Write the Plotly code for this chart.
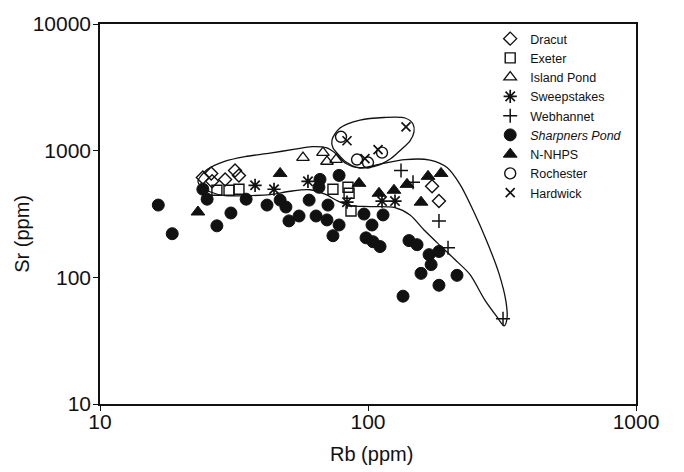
import plotly.graph_objects as go

# ---- data (Rb ppm, Sr ppm) ----
dracut_rb = [24.2, 26.0, 26.2, 29.3, 31.9, 33.0, 173.4, 184.0]
dracut_sr = [615, 661, 573, 593, 698, 638, 523, 400]

exeter_rb = [27.3, 30.3, 33.0, 74.0, 84.2, 85.0, 86.4]
exeter_sr = [487, 487, 496, 496, 514, 461, 334]

island_rb = [57.2, 67.9, 70.3, 76.0]
island_sr = [882, 965, 821, 851]

sweep_rb = [37.9, 44.6, 59.7, 83.5, 112.8, 126.1]
sweep_sr = [533, 496, 573, 392, 400, 400]

webh_rb = [132.8, 147.2, 184.0, 198.9, 319.0]
webh_sr = [698, 562, 279, 171.6, 47.0]

sharp_rb = [16.5, 18.6, 24.2, 25.1, 27.3, 30.8, 35.1, 42.0, 47.0, 49.4, 50.7, 55.3,
            60.3, 64.0, 66.2, 65.6, 70.3, 70.9, 78.0, 78.0, 74.0, 96.6, 103.5, 113.8,
            98.3, 104.4, 110.9, 142.2, 152.4, 169.0, 184.0, 172.0, 157.7, 214.8, 184.0, 135.1]
sharp_sr = [372, 221, 496, 414, 255, 322, 414, 372, 407, 359, 279, 305,
            407, 305, 593, 514, 284, 372, 638, 259, 213, 316, 259, 311,
            205, 191, 175, 195, 181, 151, 160, 126, 107.5, 103.7, 86.6, 71]

nnhps_rb = [23.2, 47.0, 92.6, 109.9, 125.0, 139.8, 157.7, 167.5, 187.3]
nnhps_sr = [328, 661, 552, 461, 487, 542, 392, 627, 661]

roch_rb = [79.3, 91.0, 100.0, 112.8]
roch_sr = [1287, 851, 806, 965]

hard_rb = [83.5, 97.4, 109.0, 138.6]
hard_sr = [1197, 866, 1018, 1540]

# hand-drawn field outlines
field_rb = [23.2, 25.1, 29.0, 34.8, 43.1, 53.4, 61.8, 69.7, 76.0, 82.8, 93.4, 110.9,
            137.5, 170.3, 197.2, 220.4, 246.5, 278, 308, 327, 330, 322, 303, 273,
            240, 211, 186, 163, 143.5, 126, 101.7, 85.7, 77.3, 69.1, 60.8, 51.2,
            43.1, 34.8, 29.3, 25.7, 23.8, 23.2]
field_sr = [573, 710, 821, 898, 956, 1027, 1075, 1055, 947, 791, 730, 784,
            851, 843, 736, 542, 340, 191, 107.5, 64.9, 47.0, 41.4, 48.7, 66.1,
            105.5, 138.2, 177.8, 232.9, 311, 355.4, 361.9, 368.5, 400, 453.3, 491.4, 478.3,
            449.2, 441.2, 441.2, 474, 523, 573]

loop_rb = [73.4, 78.6, 93.4, 114.7, 137.5, 147.2, 148.5, 143.5, 132.8, 121.8, 110.9,
           99.1, 90.2, 82.8, 77.3, 74.0, 73.4]
loop_sr = [1218, 1512, 1746, 1827, 1811, 1625, 1408, 1197, 1018, 866, 777,
           736, 743, 813, 939, 1055, 1218]

x_ticks = [10, 100, 1000]
y_ticks = [10, 100, 1000, 10000]

FONT = "Liberation Sans, Arial, sans-serif"
BLACK = "#111111"

fig = go.Figure()

for rb, sr in [(field_rb, field_sr), (loop_rb, loop_sr)]:
    fig.add_trace(go.Scatter(x=rb, y=sr, mode="lines",
                             line=dict(color=BLACK, width=1.3, shape="spline", smoothing=0.8),
                             showlegend=False, hoverinfo="skip"))

series = [
    ("Dracut", dracut_rb, dracut_sr, "diamond-open", 10, 1.4),
    ("Exeter", exeter_rb, exeter_sr, "square-open", 10, 1.4),
    ("Island Pond", island_rb, island_sr, "triangle-up-open", 11, 1.3),
    ("Sweepstakes", sweep_rb, sweep_sr, "asterisk-open", 11, 1.7),
    ("Webhannet", webh_rb, webh_sr, "cross-thin-open", 10, 1.5),
    ("<i>Sharpners Pond</i>", sharp_rb, sharp_sr, "circle", 12, 1.0),
    ("N-NHPS", nnhps_rb, nnhps_sr, "triangle-up", 12, 1.0),
    ("Rochester", roch_rb, roch_sr, "circle-open", 11, 1.4),
    ("Hardwick", hard_rb, hard_sr, "x-thin-open", 9, 1.7),
]
for name, rb, sr, sym, size, lw in series:
    fig.add_trace(go.Scatter(x=rb, y=sr, mode="markers", name=name,
                             marker=dict(symbol=sym, size=size, color=BLACK,
                                         line=dict(color=BLACK, width=lw))))

axis_common = dict(type="log", showgrid=False, zeroline=False, showline=True,
                   linecolor=BLACK, linewidth=1.5, mirror=True,
                   ticks="outside", ticklen=5, tickwidth=1.3, tickcolor=BLACK,
                   tickfont=dict(family=FONT, size=21, color=BLACK))

fig.update_layout(
    width=684, height=472,
    margin=dict(l=100, r=48, t=20, b=68),
    paper_bgcolor="white", plot_bgcolor="white",
    font=dict(family=FONT, color=BLACK),
    xaxis=dict(range=[1, 3], tickvals=x_ticks, ticktext=[str(v) for v in x_ticks],
               ticklabelstandoff=-7, **axis_common),
    yaxis=dict(range=[1, 4], tickvals=y_ticks, ticktext=[str(v) for v in y_ticks],
               ticklabelstandoff=-2, **axis_common),
    xaxis2=dict(type="log", range=[1, 3], overlaying="x", anchor="y", side="bottom",
                tickvals=x_ticks, ticks="inside", ticklen=5, tickwidth=1.3, tickcolor=BLACK,
                showticklabels=False, showgrid=False, zeroline=False, showline=False),
    yaxis2=dict(type="log", range=[1, 4], overlaying="y", anchor="x", side="left",
                tickvals=y_ticks, ticks="inside", ticklen=5, tickwidth=1.3, tickcolor=BLACK,
                showticklabels=False, showgrid=False, zeroline=False, showline=False),
    legend=dict(x=0.728, y=1.0, xanchor="left", yanchor="top",
                bgcolor="rgba(0,0,0,0)", borderwidth=0,
                font=dict(family=FONT, size=12.5, color=BLACK)),
    annotations=[
        dict(text="Sr (ppm)", xref="paper", yref="paper", x=-0.1455, y=0.448,
             xanchor="center", yanchor="middle",
             textangle=-90, showarrow=False, font=dict(family=FONT, size=20, color=BLACK)),
        dict(text="Rb (ppm)", xref="paper", yref="paper", x=0.5056, y=-0.1328,
             xanchor="center", yanchor="middle",
             showarrow=False, font=dict(family=FONT, size=20, color=BLACK)),
    ],
)

fig.write_html("out.html", config={"displayModeBar": False},
               post_script="document.body.style.margin='0px';")
